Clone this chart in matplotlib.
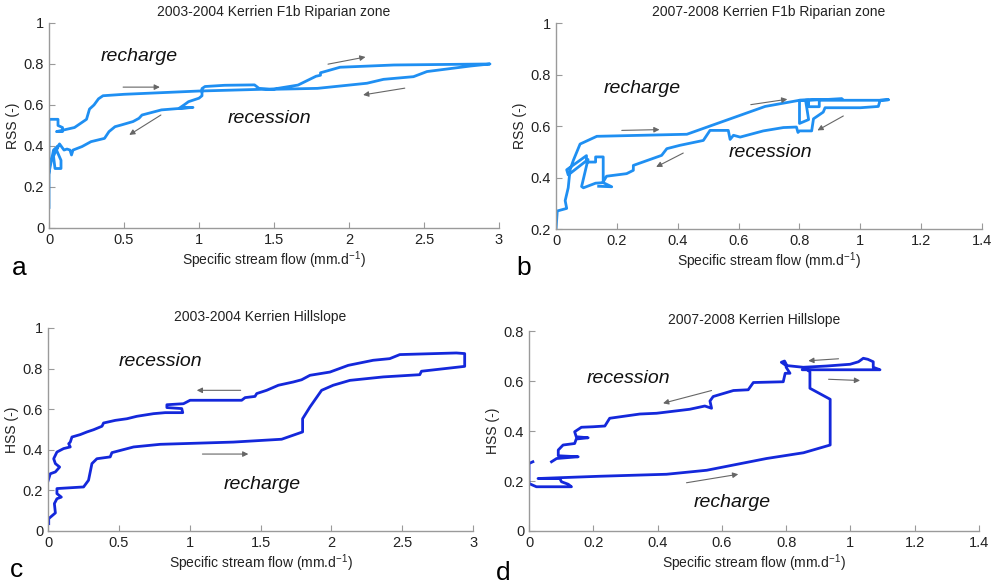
import numpy as np
import matplotlib
matplotlib.use('Agg')
import matplotlib.pyplot as plt

plt.rcParams['font.family'] = ['Liberation Sans', 'DejaVu Sans']

# ---- panel a : 2003-2004 riparian zone
a_flow = [0.0, 0.0, 0.0, 0.06, 0.06, 0.09, 0.09, 0.05, 0.17, 0.25, 0.27, 0.30, 0.33, 0.36, 0.50,
          1.00, 1.50, 1.66, 1.78, 1.81, 1.81, 1.94, 2.30, 2.94, 2.81, 2.52, 2.43, 2.23, 2.12, 1.79,
          1.47, 1.40, 1.37, 1.17, 1.04, 1.02, 1.02, 1.00, 0.93, 0.90, 0.87, 0.96, 0.87, 0.75, 0.62,
          0.60, 0.56, 0.48, 0.44, 0.40, 0.37, 0.28, 0.22, 0.16, 0.15, 0.14, 0.12, 0.10, 0.07, 0.05,
          0.08, 0.08, 0.04, 0.03, 0.06, 0.03, 0.0]
a_rss = [0.10, 0.30, 0.53, 0.53, 0.50, 0.49, 0.47, 0.47, 0.49, 0.53, 0.58, 0.60, 0.63, 0.645, 0.652,
         0.668, 0.678, 0.697, 0.74, 0.745, 0.757, 0.784, 0.795, 0.80, 0.79, 0.763, 0.738, 0.725, 0.706, 0.681,
         0.676, 0.681, 0.698, 0.696, 0.69, 0.68, 0.645, 0.633, 0.616, 0.60, 0.585, 0.588, 0.583, 0.576, 0.551,
         0.535, 0.519, 0.502, 0.494, 0.47, 0.437, 0.421, 0.397, 0.38, 0.356, 0.38, 0.385, 0.38, 0.41, 0.38,
         0.33, 0.29, 0.29, 0.35, 0.40, 0.38, 0.27]

# ---- panel b : 2007-2008 riparian zone
b_flow = [0.0, 0.004, 0.035, 0.03, 0.04, 0.046, 0.057, 0.079, 0.134, 0.43, 0.687, 0.80, 0.94, 0.80, 0.80,
          0.83, 0.82, 0.83, 0.83, 0.865, 0.865, 1.065, 1.092, 1.065, 1.059, 1.0, 0.884, 0.878, 0.846, 0.84,
          0.80, 0.795, 0.79, 0.747, 0.681, 0.605, 0.583, 0.572, 0.566, 0.506, 0.484, 0.407, 0.364, 0.347, 0.254,
          0.254, 0.232, 0.166, 0.155, 0.155, 0.13, 0.13, 0.10, 0.10, 0.035, 0.04, 0.105, 0.084, 0.09, 0.13,
          0.155, 0.183, 0.14]
b_rss = [0.20, 0.27, 0.28, 0.31, 0.36, 0.43, 0.467, 0.53, 0.56, 0.568, 0.676, 0.70, 0.705, 0.70, 0.61,
         0.625, 0.70, 0.70, 0.675, 0.675, 0.70, 0.70, 0.702, 0.70, 0.676, 0.671, 0.671, 0.654, 0.628, 0.581,
         0.581, 0.575, 0.596, 0.594, 0.581, 0.557, 0.564, 0.548, 0.583, 0.583, 0.544, 0.525, 0.512, 0.486, 0.447,
         0.428, 0.415, 0.405, 0.383, 0.48, 0.48, 0.46, 0.46, 0.485, 0.43, 0.41, 0.47, 0.365, 0.36, 0.378,
         0.38, 0.364, 0.366]

# ---- panel c : 2003-2004 hillslope
c_flow = [0.005, 0.005, 0.052, 0.045, 0.063, 0.094, 0.063, 0.063, 0.251, 0.286, 0.31, 0.345, 0.439, 0.451,
          0.604, 0.792, 1.308, 1.649, 1.797, 1.797, 1.849, 1.931, 2.013, 2.131, 2.366, 2.624, 2.636, 2.941,
          2.941, 2.882, 2.483, 2.412, 2.295, 2.119, 1.99, 1.849, 1.79, 1.731, 1.626, 1.543, 1.473, 1.461,
          1.391, 1.367, 1.003, 0.956, 0.839, 0.839, 0.944, 0.951, 0.827, 0.745, 0.627, 0.557, 0.475, 0.392,
          0.381, 0.322, 0.275, 0.228, 0.169, 0.157, 0.146, 0.157, 0.11, 0.063, 0.04, 0.052, 0.082, 0.052,
          0.016, 0.0]
c_hss = [0.036, 0.061, 0.089, 0.135, 0.159, 0.167, 0.184, 0.209, 0.217, 0.25, 0.332, 0.356, 0.365, 0.386,
         0.414, 0.427, 0.438, 0.452, 0.488, 0.553, 0.611, 0.693, 0.718, 0.742, 0.759, 0.77, 0.787, 0.811,
         0.874, 0.877, 0.869, 0.849, 0.841, 0.816, 0.783, 0.767, 0.745, 0.734, 0.718, 0.693, 0.677, 0.663,
         0.657, 0.644, 0.644, 0.627, 0.622, 0.608, 0.603, 0.583, 0.583, 0.578, 0.565, 0.553, 0.545, 0.532,
         0.516, 0.499, 0.488, 0.475, 0.463, 0.438, 0.43, 0.414, 0.406, 0.389, 0.356, 0.332, 0.315, 0.291,
         0.282, 0.246]

# ---- panel d : 2007-2008 hillslope
d_flow = [0.012, 0.0, 0.0, 0.023, 0.132, 0.122, 0.101, 0.096, 0.028, 0.22, 0.428, 0.553, 0.739, 0.854,
          0.937, 0.937, 0.874, 0.874, 0.859, 0.85, 1.092, 1.071, 1.071, 1.054, 1.04, 1.025, 0.999, 0.926,
          0.853, 0.80, 0.785, 0.795, 0.80, 0.80, 0.812, 0.797, 0.791, 0.698, 0.682, 0.636, 0.573, 0.563,
          0.568, 0.547, 0.5, 0.397, 0.345, 0.251, 0.236, 0.199, 0.163, 0.142, 0.147, 0.184, 0.147, 0.142,
          0.106, 0.091, 0.091, 0.153, 0.086, 0.07]
d_hss = [0.277, 0.27, 0.19, 0.177, 0.177, 0.187, 0.197, 0.21, 0.21, 0.219, 0.227, 0.243, 0.29, 0.313,
         0.344, 0.527, 0.571, 0.637, 0.651, 0.645, 0.645, 0.655, 0.677, 0.687, 0.691, 0.677, 0.667, 0.66,
         0.655, 0.662, 0.675, 0.68, 0.668, 0.655, 0.631, 0.631, 0.597, 0.594, 0.565, 0.562, 0.538, 0.52,
         0.491, 0.5, 0.487, 0.471, 0.468, 0.451, 0.42, 0.417, 0.415, 0.397, 0.377, 0.373, 0.368, 0.35,
         0.344, 0.324, 0.301, 0.297, 0.29, 0.277]

# arrows (x0, y0, x1, y1) and labels (text, x, y)
a_arrows = [(0.494, 0.687, 0.739, 0.687), (1.86, 0.799, 2.11, 0.834),
            (2.372, 0.682, 2.094, 0.649), (0.746, 0.551, 0.535, 0.454)]
a_labels = [('recharge', 0.60, 0.837), ('recession', 1.47, 0.532)]
b_arrows = [(0.216, 0.583, 0.34, 0.586), (0.64, 0.683, 0.76, 0.704),
            (0.944, 0.639, 0.859, 0.583), (0.418, 0.495, 0.329, 0.441)]
b_labels = [('recharge', 0.283, 0.745), ('recession', 0.704, 0.499)]
c_arrows = [(1.36, 0.693, 1.05, 0.693), (1.09, 0.379, 1.414, 0.379)]
c_labels = [('recession', 0.792, 0.833), ('recharge', 1.513, 0.23)]
d_arrows = [(0.963, 0.689, 0.869, 0.681), (0.932, 0.607, 1.03, 0.602),
            (0.568, 0.562, 0.417, 0.511), (0.49, 0.193, 0.651, 0.227)]
d_labels = [('recession', 0.309, 0.611), ('recharge', 0.631, 0.116)]

x_ticks_long = [0, 0.5, 1, 1.5, 2, 2.5, 3]
x_ticks_short = [0, 0.2, 0.4, 0.6, 0.8, 1, 1.2, 1.4]

rss_color = '#1f8ff2'
hss_color = '#1428db'
axis_gray = '#9a9a9a'


def setup_axes(ax, title, ylabel, xticks, yticks):
    for side in ['top', 'right']:
        ax.spines[side].set_visible(False)
    for side in ['left', 'bottom']:
        ax.spines[side].set_color(axis_gray)
        ax.spines[side].set_linewidth(1.0)
    ax.set_xlim(xticks[0], xticks[-1])
    ax.set_ylim(yticks[0], yticks[-1])
    ax.set_xticks(xticks)
    ax.set_yticks(yticks)
    ax.set_xticklabels(['%g' % t for t in xticks])
    ax.set_yticklabels(['%g' % t for t in yticks])
    ax.tick_params(direction='in', length=4, color=axis_gray, labelsize=10.5, labelcolor='#222222')
    ax.set_title(title, fontsize=10, pad=5, color='#222222')
    ax.set_xlabel('Specific stream flow (mm.d$^{\\mathregular{-1}}$)', fontsize=10, labelpad=2,
                  color='#222222')
    ax.set_ylabel(ylabel, fontsize=10, labelpad=3, color='#222222')


def decorate(ax, arrows, labels):
    for x0, y0, x1, y1 in arrows:
        ax.annotate('', xy=(x1, y1), xytext=(x0, y0),
                    arrowprops=dict(arrowstyle='-|>', color='#666666', lw=0.8,
                                    mutation_scale=8, shrinkA=0, shrinkB=0))
    for text, x, y in labels:
        ax.text(x, y, text, fontsize=14, style='italic', ha='center', va='center', color='#111111')


fig = plt.figure(figsize=(9.94, 5.83), dpi=100)

ax_a = fig.add_axes([0.0493, 0.609, 0.4527, 0.3516])
ax_a.plot(a_flow, a_rss, color=rss_color, lw=2)
setup_axes(ax_a, '2003-2004 Kerrien F1b Riparian zone', 'RSS (-)', x_ticks_long,
           [0, 0.2, 0.4, 0.6, 0.8, 1])
decorate(ax_a, a_arrows, a_labels)

ax_b = fig.add_axes([0.5594, 0.6072, 0.4286, 0.3533])
ax_b.plot(b_flow, b_rss, color=rss_color, lw=2)
setup_axes(ax_b, '2007-2008 Kerrien F1b Riparian zone', 'RSS (-)', x_ticks_short,
           [0.2, 0.4, 0.6, 0.8, 1])
decorate(ax_b, b_arrows, b_labels)

ax_c = fig.add_axes([0.0483, 0.0892, 0.4276, 0.3482])
ax_c.plot(c_flow, c_hss, color=hss_color, lw=2)
setup_axes(ax_c, '2003-2004 Kerrien Hillslope', 'HSS (-)', x_ticks_long,
           [0, 0.2, 0.4, 0.6, 0.8, 1])
decorate(ax_c, c_arrows, c_labels)

ax_d = fig.add_axes([0.5322, 0.0892, 0.4527, 0.343])
ax_d.plot(d_flow, d_hss, color=hss_color, lw=2)
setup_axes(ax_d, '2007-2008 Kerrien Hillslope', 'HSS (-)', x_ticks_short,
           [0, 0.2, 0.4, 0.6, 0.8])
decorate(ax_d, d_arrows, d_labels)

# panel letters
for letter, x, y in [('a', 0.012, 0.528), ('b', 0.519, 0.528), ('c', 0.010, 0.010), ('d', 0.499, 0.006)]:
    fig.text(x, y, letter, fontsize=19, color='black', ha='left', va='baseline')

fig.savefig('out.png', dpi=100)
